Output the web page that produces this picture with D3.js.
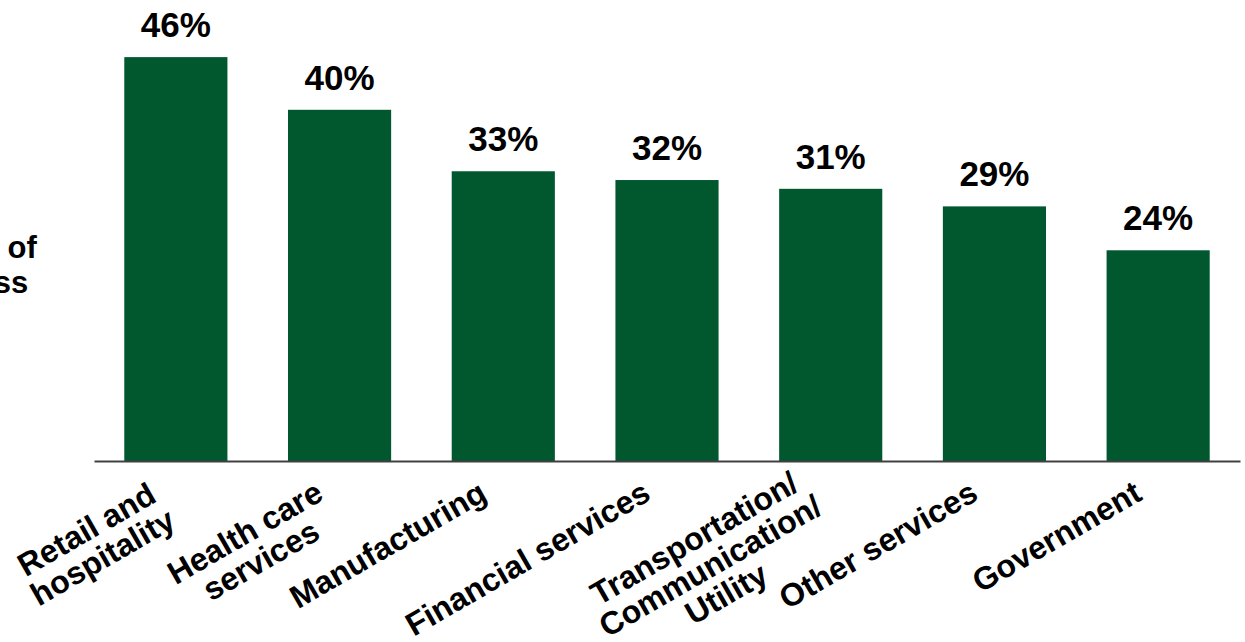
<!DOCTYPE html>
<html>
<head>
<meta charset="utf-8">
<script src="https://cdn.jsdelivr.net/npm/d3@7"></script>
<style>
  html, body { margin: 0; padding: 0; background: #ffffff; }
  svg { display: block; font-family: "Liberation Sans", Arial, sans-serif; }
</style>
</head>
<body>
<svg id="chart" width="1245" height="642"></svg>
<script>
// Industry categories (each entry is split into lines for the axis labels)
const categories = [
  ["Retail and", "hospitality"],
  ["Health care", "services"],
  ["Manufacturing"],
  ["Financial services"],
  ["Transportation/", "Communication/", "Utility"],
  ["Other services"],
  ["Government"]
];
// Share of businesses, percent
const values = [46, 40, 33, 32, 31, 29, 24];
const yTitleLines = ["Percent of", "business"];

const svg = d3.select("#chart");
const baseY = 461;
const barColor = "#01582f";

const x = d3.scaleBand()
  .domain(d3.range(categories.length))
  .range([94, 1240])
  .paddingInner(0.37)
  .paddingOuter(0.185);

const y = d3.scaleLinear()
  .domain([0, 50])
  .range([baseY, 22]);

// Bars
svg.append("g")
  .selectAll("rect")
  .data(values)
  .join("rect")
  .attr("x", (d, i) => x(i))
  .attr("width", x.bandwidth())
  .attr("y", d => y(d))
  .attr("height", d => y(0) - y(d))
  .attr("fill", barColor);

// Value labels above bars
svg.append("g")
  .selectAll("text")
  .data(values)
  .join("text")
  .attr("x", (d, i) => x(i) + x.bandwidth() / 2)
  .attr("y", d => y(d) - 20)
  .attr("text-anchor", "middle")
  .attr("font-size", 35)
  .attr("font-weight", "bold")
  .attr("fill", "#000")
  .text(d => d + "%");

// Baseline axis
const axis = svg.append("g")
  .attr("transform", `translate(0,${baseY})`)
  .call(d3.axisBottom(x).tickSize(0).tickFormat(""));
axis.select(".domain")
  .attr("stroke", "#404040")
  .attr("stroke-width", 2);

// Rotated category labels: right edge of each label block sits under its bar;
// taller blocks are lifted a little so they stay inside the frame
const fs = 32, lh = 32;
const labels = svg.append("g");
categories.forEach((lines, i) => {
  const cx = x(i) + x.bandwidth() / 2 - 26;
  const lift = Math.max(0, lines.length - 2) * lh * 0.5;
  const g = labels.append("g")
    .attr("transform", `translate(${cx},${baseY + 18}) rotate(-30)`);
  const texts = lines.map((ln, k) => g.append("text")
    .attr("font-size", fs)
    .attr("font-weight", "bold")
    .attr("fill", "#000")
    .attr("text-anchor", "middle")
    .attr("y", 23 + k * lh - lift)
    .text(ln));
  const w = d3.max(texts, t => t.node().getComputedTextLength());
  texts.forEach(t => t.attr("x", -w / 2));
});

// Y-axis title (horizontal, two lines)
const yt = svg.append("text")
  .attr("font-size", 31)
  .attr("font-weight", "bold")
  .attr("fill", "#000")
  .attr("text-anchor", "middle");
yTitleLines.forEach((ln, k) => {
  yt.append("tspan").attr("x", -39).attr("y", 258 + k * 35).text(ln);
});
</script>
</body>
</html>
